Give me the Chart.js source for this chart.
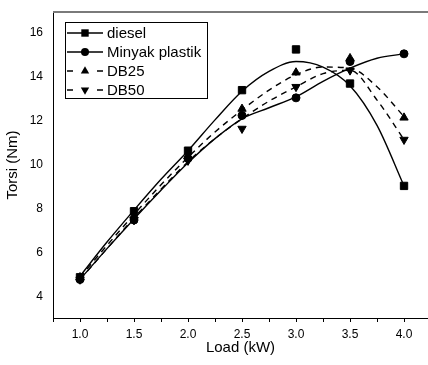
<!DOCTYPE html>
<html>
<head>
<meta charset="utf-8">
<script src="https://cdn.jsdelivr.net/npm/chart.js@4.4.0/dist/chart.umd.min.js"></script>
<style>
  html, body { margin: 0; padding: 0; background: #fff; }
</style>
</head>
<body>
<canvas id="chart" width="428" height="365"></canvas>
<script>
// measured points
const loads = [1.0, 1.5, 2.0, 2.5, 3.0, 3.5, 4.0];
const diesel = [4.9, 7.9, 10.65, 13.4, 15.25, 13.7, 9.05];
const minyak = [4.8, 7.5, 10.3, 12.25, 13.05, 14.7, 15.05];
const db25 = [4.9, 7.7, 10.4, 12.55, 14.2, 14.85, 12.15];
const db50 = [4.8, 7.5, 10.2, 11.65, 13.55, 14.3, 11.15];

// fitted curves, every 0.25 kW
const fitLoads = [1.0, 1.25, 1.5, 1.75, 2.0, 2.25, 2.5, 2.75, 3.0, 3.25, 3.5, 3.75, 4.0];
const dieselFit = [4.95, 6.5, 7.95, 9.35, 10.65, 12.05, 13.35, 14.25, 14.7, 14.45, 13.6, 11.8, 9.05];
const minyakFit = [4.8, 6.2, 7.55, 8.85, 10.1, 11.2, 12.1, 12.6, 13.1, 13.8, 14.4, 14.85, 15.05];
const db25Fit = [4.9, 6.35, 7.75, 9.1, 10.35, 11.5, 12.5, 13.4, 14.1, 14.45, 14.4, 13.55, 12.2];
const db50Fit = [4.8, 6.2, 7.6, 8.9, 10.15, 11.2, 12.1, 12.9, 13.55, 14.15, 14.3, 12.95, 11.15];

const seriesNames = ["diesel", "Minyak plastik", "DB25", "DB50"];
const xTicks = [0.75, 1.0, 1.25, 1.5, 1.75, 2.0, 2.25, 2.5, 2.75, 3.0, 3.25, 3.5, 3.75, 4.0];
const yTicks = [4, 6, 8, 10, 12, 14, 16];

const FONT = "'Liberation Sans', Arial, sans-serif";

const series = [
  { name: seriesNames[0], points: diesel, fit: dieselFit, marker: "rect", dashed: false },
  { name: seriesNames[1], points: minyak, fit: minyakFit, marker: "circle", dashed: false },
  { name: seriesNames[2], points: db25, fit: db25Fit, marker: "up", dashed: true },
  { name: seriesNames[3], points: db50, fit: db50Fit, marker: "down", dashed: true },
];

const toXY = (xs, ys) => xs.map((x, i) => ({ x: x, y: ys[i] }));

const markerOpts = (m) => {
  if (m === "rect") return { pointStyle: "rect", pointRadius: 5.2, pointRotation: 0 };
  if (m === "circle") return { pointStyle: "circle", pointRadius: 4, pointRotation: 0 };
  if (m === "up") return { pointStyle: "triangle", pointRadius: 4.8, pointRotation: 0 };
  return { pointStyle: "triangle", pointRadius: 4.8, pointRotation: 180 };
};

const datasets = [];
series.forEach((s) => {
  datasets.push({
    label: s.name + " fit",
    data: toXY(fitLoads, s.fit),
    showLine: true,
    borderColor: "#000",
    borderWidth: 1.4,
    borderDash: s.dashed ? [6, 5] : [],
    pointRadius: 0,
    cubicInterpolationMode: "monotone",
    order: 2,
  });
  datasets.push(Object.assign({
    label: s.name,
    data: toXY(loads, s.points),
    showLine: false,
    borderColor: "#000",
    backgroundColor: "#000",
    borderWidth: 1,
    order: 1,
  }, markerOpts(s.marker)));
});

const drawMarker = (ctx, m, x, y) => {
  ctx.beginPath();
  if (m === "rect") {
    ctx.rect(x - 3.7, y - 3.7, 7.4, 7.4);
  } else if (m === "circle") {
    ctx.arc(x, y, 4, 0, Math.PI * 2);
  } else if (m === "up") {
    ctx.moveTo(x, y - 4.8);
    ctx.lineTo(x + 4.2, y + 2.4);
    ctx.lineTo(x - 4.2, y + 2.4);
    ctx.closePath();
  } else {
    ctx.moveTo(x, y + 4.8);
    ctx.lineTo(x + 4.2, y - 2.4);
    ctx.lineTo(x - 4.2, y - 2.4);
    ctx.closePath();
  }
  ctx.fill();
};

// drop the extra room chart.js keeps for edge labels
const noEdgePadding = (scale) => {
  scale.paddingTop = 0;
  scale.paddingBottom = 0;
  scale.paddingLeft = 0;
  scale.paddingRight = 0;
};

const frameAndLegend = {
  id: "frameAndLegend",
  afterDatasetsDraw(chart) {
    const { ctx, chartArea } = chart;
    ctx.save();
    // top frame line
    ctx.strokeStyle = "#7a7a7a";
    ctx.lineWidth = 2;
    ctx.beginPath();
    ctx.moveTo(chartArea.left, chartArea.top);
    ctx.lineTo(chart.width, chartArea.top);
    ctx.stroke();

    // legend
    ctx.strokeStyle = "#000";
    ctx.lineWidth = 1;
    ctx.fillStyle = "#fff";
    ctx.fillRect(65.5, 22.5, 142, 76);
    ctx.strokeRect(65.5, 22.5, 142, 76);
    ctx.fillStyle = "#000";
    ctx.font = "15px " + FONT;
    ctx.textBaseline = "middle";
    series.forEach((s, i) => {
      const y = 33 + i * 19;
      ctx.lineWidth = 1.4;
      ctx.beginPath();
      if (s.dashed) {
        ctx.moveTo(67, y); ctx.lineTo(73, y);
        ctx.moveTo(97, y); ctx.lineTo(103, y);
      } else {
        ctx.moveTo(67, y); ctx.lineTo(103, y);
      }
      ctx.stroke();
      drawMarker(ctx, s.marker, 85, y);
      ctx.fillText(s.name, 107, y + 1);
    });
    ctx.restore();
  },
};

new Chart(document.getElementById("chart"), {
  type: "scatter",
  data: { datasets: datasets },
  options: {
    responsive: false,
    animation: false,
    layout: { autoPadding: false, padding: { top: 12, right: 0, bottom: 0, left: 0 } },
    plugins: { legend: { display: false }, tooltip: { enabled: false } },
    scales: {
      x: {
        type: "linear",
        min: 0.75,
        max: 4.222,
        afterBuildTicks: (scale) => { scale.ticks = xTicks.map((v) => ({ value: v })); },
        afterFit: (scale) => { scale.height = 47; noEdgePadding(scale); },
        ticks: {
          autoSkip: false,
          maxRotation: 0,
          padding: 5,
          color: "#000",
          font: { family: FONT, size: 12 },
          callback: (v) => (Number.isInteger(Math.round(v * 100) / 50) ? v.toFixed(1) : ""),
        },
        grid: { drawOnChartArea: false, drawTicks: true, tickLength: 4, color: "#000" },
        border: { color: "#000", width: 1 },
        title: {
          display: true,
          text: "Load (kW)",
          color: "#000",
          font: { family: FONT, size: 15 },
          padding: { top: 0, bottom: 8 },
        },
      },
      y: {
        min: 3.05,
        max: 16.95,
        afterBuildTicks: (scale) => { scale.ticks = yTicks.map((v) => ({ value: v })); },
        afterFit: (scale) => { scale.width = 53; noEdgePadding(scale); },
        ticks: {
          padding: 10,
          color: "#000",
          font: { family: FONT, size: 12 },
        },
        grid: { display: false, drawTicks: false, tickLength: 0 },
        border: { color: "#000", width: 1 },
        title: {
          display: true,
          text: "Torsi (Nm)",
          color: "#000",
          font: { family: FONT, size: 15 },
          padding: { top: 4, bottom: 0 },
        },
      },
    },
  },
  plugins: [frameAndLegend],
});
</script>
</body>
</html>
